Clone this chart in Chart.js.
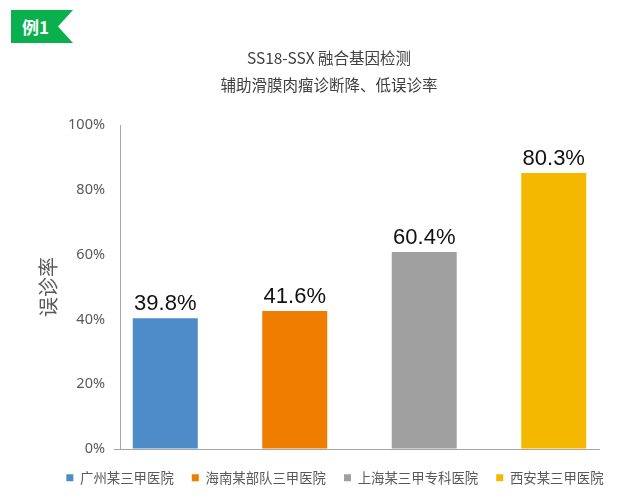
<!DOCTYPE html>
<html>
<head>
<meta charset="utf-8">
<script src="https://cdn.jsdelivr.net/npm/chart.js@4/dist/chart.umd.min.js"></script>
<style>
  html, body { margin: 0; padding: 0; background: #fff; }
  #wrap { position: relative; width: 631px; height: 502px; overflow: hidden; }
  #c { position: absolute; left: 0; top: 0; }
  .badge { position: absolute; left: 11px; top: 10px; width: 62px; height: 33px;
    background: #0aaf4e; clip-path: polygon(0 0, 62px 0, 47px 16.5px, 62px 33px, 0 33px);
    color: #fff; font: bold 17px "Noto Sans CJK SC", sans-serif; line-height: 33px;
    box-sizing: border-box; padding-left: 11px; }
  .t { position: absolute; left: 0; width: 658px; text-align: center; color: #404040;
    font: 15.5px "Noto Sans CJK SC", sans-serif; line-height: 20px; white-space: nowrap; }
</style>
</head>
<body>
<div id="wrap">
  <canvas id="c" width="640" height="502"></canvas>
  <div class="badge">例1</div>
  <div class="t" style="top:47px">SS18-SSX 融合基因检测</div>
  <div class="t" style="top:74px">辅助滑膜肉瘤诊断降、低误诊率</div>
</div>
<script>
const hospitals = ["广州某三甲医院", "海南某部队三甲医院", "上海某三甲专科医院", "西安某三甲医院"];
const barValues = [40.4, 42.6, 60.8, 85.2];
const valueLabels = ["39.8%", "41.6%", "60.4%", "80.3%"];
const barColors = ["#4e8cc9", "#ee7d00", "#a0a0a0", "#f5b800"];
const yTicks = [0, 20, 40, 60, 80, 100];
const yTitle = "误诊率";

const datasets = hospitals.map((h, i) => ({
  label: h,
  data: [barValues[i]],
  backgroundColor: barColors[i],
  borderWidth: 0,
  categoryPercentage: 1.0814,
  barPercentage: 0.502
}));

const labelPlugin = {
  id: 'valueLabels',
  afterDatasetsDraw(chart) {
    const ctx = chart.ctx;
    ctx.save();
    ctx.font = '22px "Liberation Sans", Arial, sans-serif';
    ctx.fillStyle = '#111';
    ctx.textAlign = 'center';
    ctx.textBaseline = 'alphabetic';
    chart.data.datasets.forEach((ds, i) => {
      const bar = chart.getDatasetMeta(i).data[0];
      ctx.fillText(valueLabels[i], bar.x, bar.y - 8);
    });
    ctx.restore();
  }
};

new Chart(document.getElementById('c'), {
  type: 'bar',
  data: { labels: [''], datasets },
  options: {
    responsive: false,
    animation: false,
    devicePixelRatio: 1,
    layout: { padding: { left: 38, right: 8, top: 125, bottom: 7.5 } },
    plugins: {
      tooltip: { enabled: false },
      title: { display: false },
      legend: {
        position: 'bottom',
        labels: {
          boxWidth: 7, boxHeight: 7, padding: 18,
          color: '#595959',
          font: { family: '"Noto Sans CJK SC", sans-serif', size: 13.4 }
        }
      }
    },
    scales: {
      x: {
        type: 'category',
        grid: { display: false, drawTicks: true, tickLength: 4 },
        ticks: { display: false },
        border: { display: true, color: '#a6a6a6', width: 1 }
      },
      y: {
        min: 0, max: 100,
        afterBuildTicks(axis) { axis.ticks = yTicks.map(v => ({ value: v })); },
        afterFit(axis) { axis.width = 82; },
        grid: {
          drawOnChartArea: false, drawTicks: true, tickLength: 6,
          color: (c) => (c.tick && c.tick.value === 0) ? '#a6a6a6' : 'rgba(0,0,0,0)'
        },
        border: { display: true, color: '#a6a6a6', width: 1 },
        ticks: {
          padding: 9, color: '#595959',
          font: { family: '"Noto Sans", sans-serif', size: 14.5 },
          callback: (v) => v + '%'
        },
        title: {
          display: true, text: yTitle, color: '#595959',
          font: { family: '"Noto Sans CJK SC", sans-serif', size: 20 },
          padding: { top: -2, bottom: 0 }
        }
      },
      yRightSpace: {
        position: 'right',
        display: true,
        min: 0, max: 100,
        afterFit(axis) { axis.width = 33; },
        grid: { display: false, drawTicks: false },
        ticks: { display: false },
        border: { display: false }
      }
    }
  },
  plugins: [labelPlugin]
});
</script>
</body>
</html>
